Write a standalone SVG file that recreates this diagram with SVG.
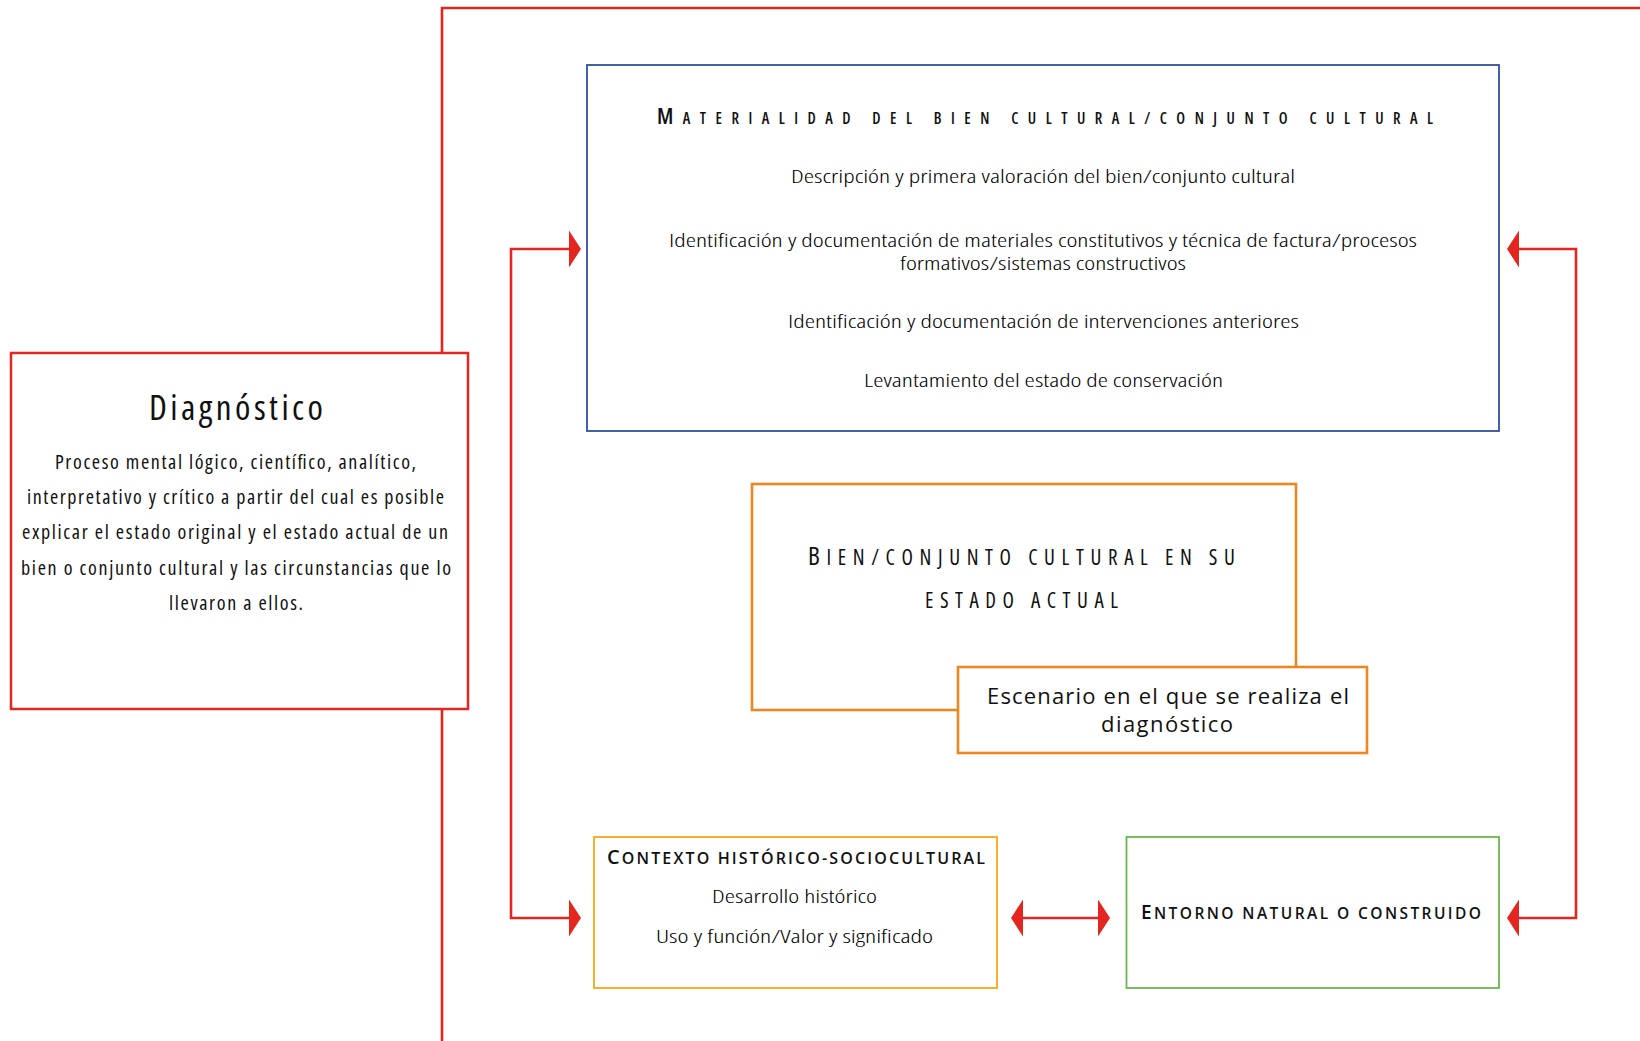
<svg xmlns="http://www.w3.org/2000/svg" width="1640" height="1041" viewBox="0 0 1640 1041">
<style>
.box{fill:#fff}
.red{stroke:#e42620;stroke-width:2.5}
.blue{stroke:#2f4f9f;stroke-width:1.8}
.orange{stroke:#f08522;stroke-width:2.6}
.yellow{stroke:#f6b02a;stroke-width:2}
.green{stroke:#6bb64c;stroke-width:1.8}
.conn{fill:none;stroke:#e42620;stroke-width:2.6}
text{fill:#111;font-family:"Open Sans","DejaVu Sans Condensed",sans-serif;font-stretch:75%;font-weight:400}
.body{font-size:19px;font-weight:300;fill:#000}
.dbody{font-size:20px;font-weight:380}
.esc{font-family:"Open Sans","Noto Sans","Liberation Sans",sans-serif;font-stretch:100%;font-weight:400;font-size:22px}
.hd{font-weight:600}
.sc{font-weight:650;font-stretch:90%}
.md{font-weight:500}
</style>
<defs>
<marker id="ah" viewBox="0 0 12 37" refX="0" refY="18.5" markerWidth="12" markerHeight="37" markerUnits="userSpaceOnUse" orient="auto-start-reverse">
<path d="M0,0 L12,18.5 L0,37 Z" fill="#e42620"/>
</marker>
</defs>

<g id="connectors">
<path class="conn" d="M442,1041 V8 H1640"/>
<path class="conn" d="M569,249 H511 V918 H569" marker-start="url(#ah)" marker-end="url(#ah)"/>
<path class="conn" d="M1519,249 H1576 V918 H1519" marker-start="url(#ah)" marker-end="url(#ah)"/>
<path class="conn" d="M1023,918 H1098" marker-start="url(#ah)" marker-end="url(#ah)"/>
</g>

<g id="diagnostico">
<rect class="box red" x="11" y="353" width="457" height="356"/>
<text class="md" x="149" y="420" font-size="35" textLength="174" lengthAdjust="spacing">Diagnóstico</text>
<text class="dbody" x="55" y="469" textLength="361" lengthAdjust="spacing">Proceso mental lógico, científico, analítico,</text>
<text class="dbody" x="27" y="504" textLength="417" lengthAdjust="spacing">interpretativo y crítico a partir del cual es posible</text>
<text class="dbody" x="22" y="539" textLength="426" lengthAdjust="spacing">explicar el estado original y el estado actual de un</text>
<text class="dbody" x="21" y="575" textLength="430" lengthAdjust="spacing">bien o conjunto cultural y las circunstancias que lo</text>
<text class="dbody" x="169" y="610" textLength="134" lengthAdjust="spacing">llevaron a ellos.</text>
</g>

<g id="materialidad">
<rect class="box blue" x="587" y="65" width="912" height="366"/>
<text class="hd" x="657" y="124" textLength="776" lengthAdjust="spacing"><tspan font-size="22">M</tspan><tspan font-size="15.5">ATERIALIDAD DEL BIEN CULTURAL/CONJUNTO CULTURAL</tspan></text>
<text class="body" x="791" y="183" textLength="504" lengthAdjust="spacingAndGlyphs">Descripción y primera valoración del bien/conjunto cultural</text>
<text class="body" x="669" y="247" textLength="748" lengthAdjust="spacingAndGlyphs">Identificación y documentación de materiales constitutivos y técnica de factura/procesos</text>
<text class="body" x="900" y="270" textLength="286" lengthAdjust="spacingAndGlyphs">formativos/sistemas constructivos</text>
<text class="body" x="788" y="328" textLength="511" lengthAdjust="spacingAndGlyphs">Identificación y documentación de intervenciones anteriores</text>
<text class="body" x="864" y="387" textLength="359" lengthAdjust="spacingAndGlyphs">Levantamiento del estado de conservación</text>
</g>

<g id="bien">
<rect class="box orange" x="752" y="484" width="544" height="226"/>
<text class="md" x="808" y="565" textLength="427" lengthAdjust="spacing"><tspan font-size="25">B</tspan><tspan font-size="21">IEN/CONJUNTO CULTURAL EN SU</tspan></text>
<text class="md" x="925" y="608" font-size="21" textLength="193" lengthAdjust="spacing">ESTADO ACTUAL</text>
</g>

<g id="escenario">
<rect class="box orange" x="958" y="667" width="409" height="86"/>
<text class="esc" x="987" y="704" textLength="362" lengthAdjust="spacing">Escenario en el que se realiza el</text>
<text class="esc" x="1101" y="732" textLength="132" lengthAdjust="spacing">diagnóstico</text>
</g>

<g id="contexto">
<rect class="box yellow" x="594" y="837" width="403" height="151"/>
<text class="sc" x="607" y="864" textLength="378" lengthAdjust="spacing"><tspan font-size="20">C</tspan><tspan font-size="16">ONTEXTO HISTÓRICO-SOCIOCULTURAL</tspan></text>
<text class="body" x="712" y="903" textLength="165" lengthAdjust="spacingAndGlyphs">Desarrollo histórico</text>
<text class="body" x="656" y="943" textLength="277" lengthAdjust="spacingAndGlyphs">Uso y función/Valor y significado</text>
</g>

<g id="entorno">
<rect class="box green" x="1126.5" y="837" width="372.5" height="151"/>
<text class="sc" x="1141" y="919" textLength="340" lengthAdjust="spacing"><tspan font-size="19">E</tspan><tspan font-size="15.5">NTORNO NATURAL O CONSTRUIDO</tspan></text>
</g>
</svg>
